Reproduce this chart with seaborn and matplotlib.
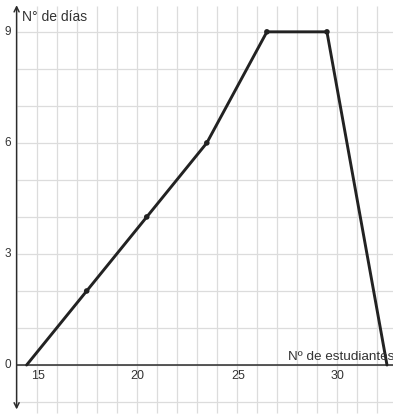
import matplotlib
matplotlib.use("Agg")
import matplotlib.pyplot as plt
import seaborn as sns
import pandas as pd

# Number of students vs number of days (polygon vertices)
estudiantes = [14.5, 17.5, 20.5, 23.5, 26.5, 29.5, 32.5]
dias = [0, 2, 4, 6, 9, 9, 0]
# interior vertices shown as dots
puntos_x = [17.5, 20.5, 23.5, 26.5, 29.5]
puntos_y = [2, 4, 6, 9, 9]

x_ticks = [15, 20, 25, 30]
y_ticks = [0, 3, 6, 9]

sns.set_theme(style="white")
plt.rcParams["font.family"] = ["Liberation Sans", "DejaVu Sans"]

fig = plt.figure(figsize=(3.93, 4.15), dpi=100)
ax = fig.add_axes([0, 0, 1, 1])
xmin, xmax = 13.17, 32.8
ymin, ymax = -1.35, 9.86
ax.set_xlim(xmin, xmax)
ax.set_ylim(ymin, ymax)
for s in ax.spines.values():
    s.set_visible(False)
ax.set_xticks([])
ax.set_yticks([])

grid_c = "#dcdcdc"
ax.vlines(range(15, 33), -1.3, 9.7, color=grid_c, lw=0.9, zorder=0)
ax.hlines(range(-1, 10), 14, xmax, color=grid_c, lw=0.9, zorder=0)

axis_c = "#2b2b2b"
ax.hlines(0, 14, xmax, color=axis_c, lw=1.1, zorder=1)
ax.annotate("", xy=(14, 9.72), xytext=(14, -1.2),
            arrowprops=dict(arrowstyle="<->", color=axis_c, lw=1.1,
                            shrinkA=0, shrinkB=0, mutation_scale=9))

df = pd.DataFrame({"estudiantes": estudiantes, "dias": dias})
sns.lineplot(data=df, x="estudiantes", y="dias", ax=ax, color="#222222",
             lw=2.1, sort=False, zorder=3)
sns.scatterplot(x=puntos_x, y=puntos_y, ax=ax, color="#222222", s=16,
                edgecolor="none", zorder=4)
ax.set_xlabel("")
ax.set_ylabel("")

for t in x_ticks:
    ax.text(t + 0.05, -0.29, str(t), ha="center", va="center", fontsize=9, color="#333333")
for t in y_ticks:
    ax.text(13.54, t, str(t), ha="center", va="center", fontsize=8.5, color="#333333")

ax.text(14.25, 9.4, "N° de días", ha="left", va="center", fontsize=10, color="#333333")
ax.text(xmax + 0.05, 0.06, "Nº de estudiantes", ha="right", va="bottom",
        fontsize=9.7, color="#333333")

fig.savefig("out.png", dpi=100)
